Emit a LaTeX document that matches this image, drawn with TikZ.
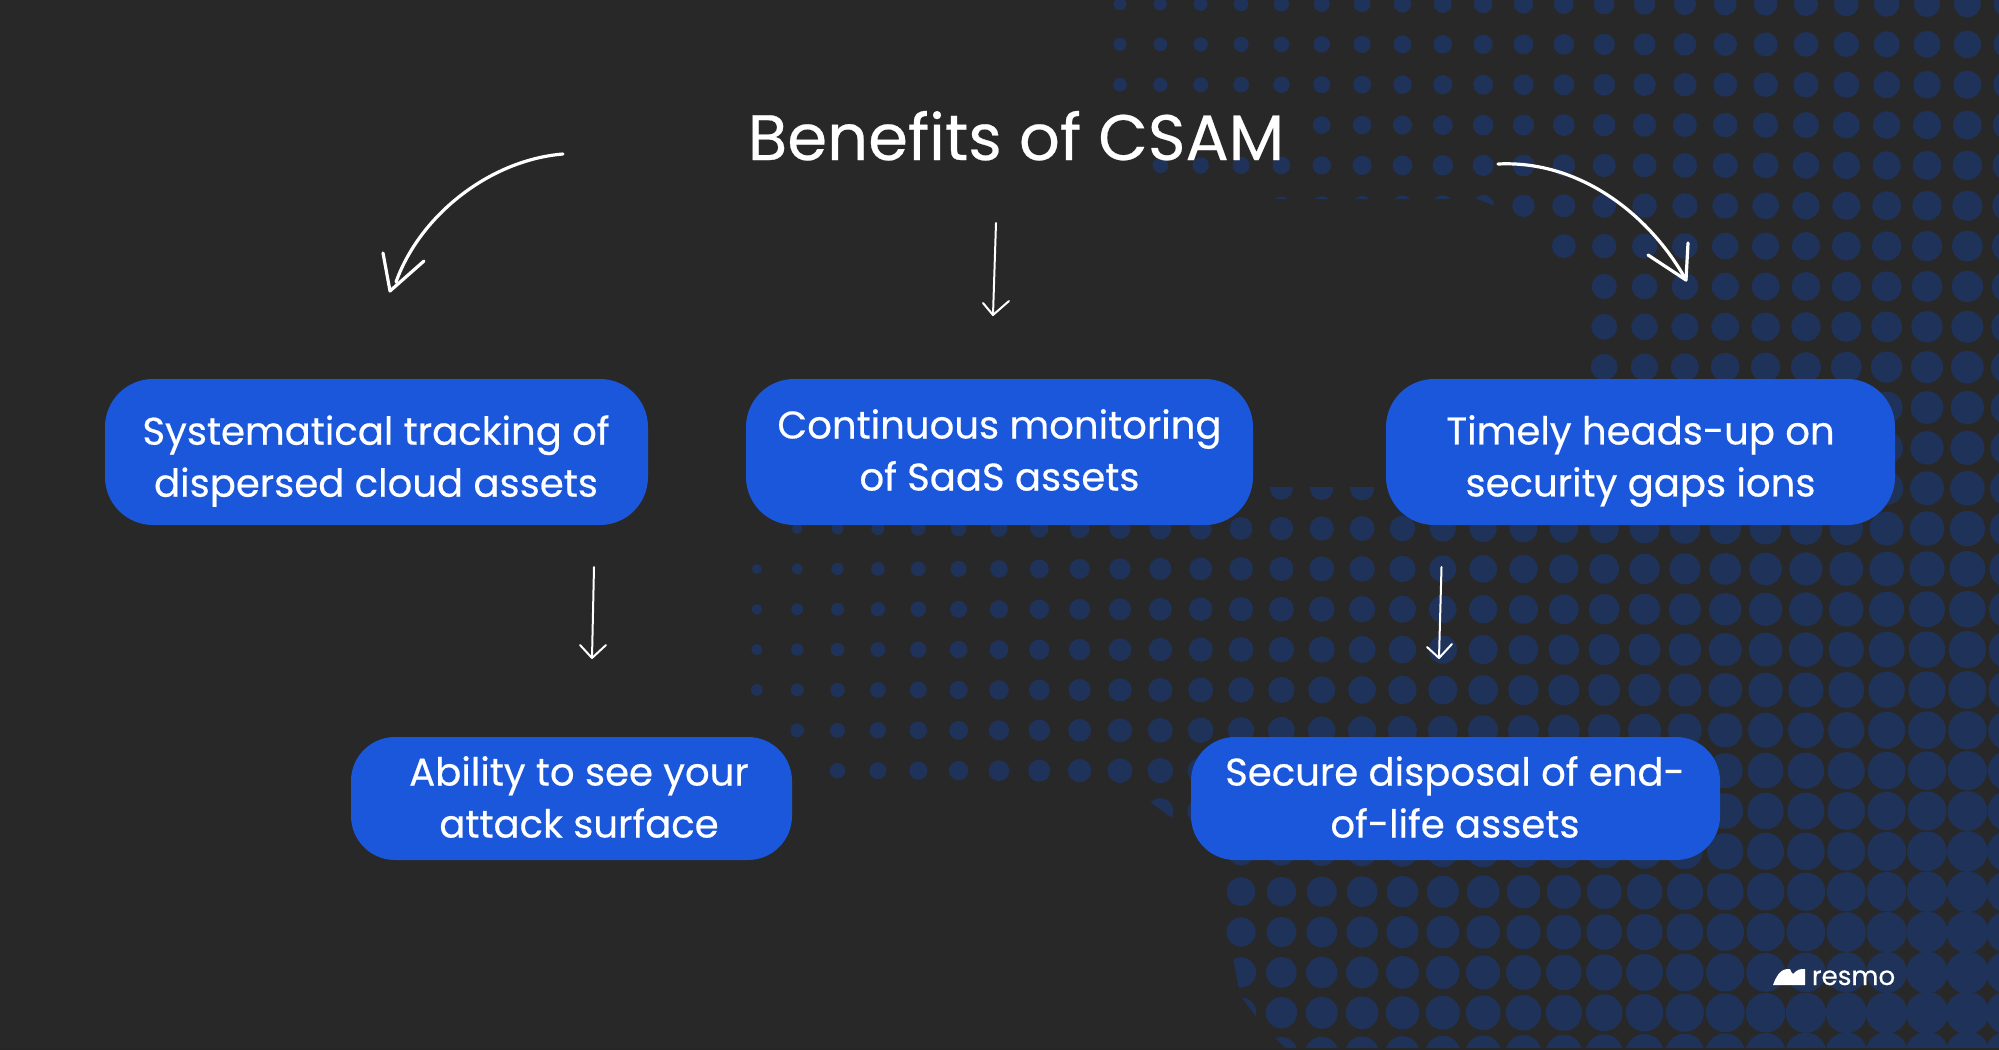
\documentclass[tikz,border=0pt]{standalone}
\usepackage{fontspec}
\setmainfont{Poppins}[FakeBold=0.45]
\newfontfamily\titlefont{Poppins}[FakeBold=0.4]
\definecolor{bgc}{HTML}{282828}
\definecolor{dotc}{HTML}{1F335A}
\definecolor{boxc}{HTML}{1A57DB}
\tikzset{
  bx/.style={draw=none,fill=boxc,rectangle,inner sep=0pt,rounded corners=24pt},
  bxtext/.style={text=white,align=center,inner sep=0pt,font=\fontsize{19.3}{26}\selectfont},
  hand/.style={draw=white,line cap=round,line join=round},
  thickhand/.style={hand,line width=1.6pt},
  thinhand/.style={hand,line width=1pt},
}
\newcommand{\dotrow}[3]{%
  \pgfmathsetmacro{\yy}{4+40.35*#1}%
  \foreach \i in {#2,...,#3}{%
    \pgfmathsetmacro{\xx}{1120+40.35*\i}%
    \pgfmathsetmacro{\rr}{6.5+0.0085*(\xx-1120)+0.008*(\yy-43)-(\xx<1120)*0.0075*(1120-\xx)}%
    \fill[dotc] (\xx,\yy) circle[radius=\rr];%
  }%
}
\begin{document}
\begin{tikzpicture}[x=0.5pt,y=-0.5pt]
\useasboundingbox (0,0) rectangle (1999,1050);
\fill[bgc] (0,0) rectangle (1999,1050);
% dot field, row by row: row, first column, last column
\begin{scope}
\clip (0,0) rectangle (1999,1050);
\dotrow{0}{0}{22}\dotrow{1}{0}{22}\dotrow{2}{0}{22}
\dotrow{3}{5}{22}\dotrow{4}{1}{22}
\dotrow{5}{10}{22}
\begin{scope}
\clip (1270,185) -- (1510,185) -- (1510,212) -- (1475,198) -- (1440,199) -- (1270,199) -- cycle;
\dotrow{5}{4}{9}
\end{scope}
\dotrow{6}{11}{22}\dotrow{7}{12}{22}\dotrow{8}{12}{22}\dotrow{9}{12}{22}
\dotrow{10}{12}{22}\dotrow{11}{12}{22}\dotrow{12}{7}{22}
\begin{scope}
\clip (1255,487) rectangle (1400,520);
\dotrow{12}{4}{6}
\end{scope}
\dotrow{13}{-8}{22}
\dotrow{14}{-9}{22}\dotrow{15}{-9}{22}\dotrow{16}{-9}{22}\dotrow{17}{-9}{22}
\dotrow{18}{-8}{22}\dotrow{19}{-7}{22}
\dotrow{20}{2}{22}
\begin{scope}
\clip (1140,790) -- (1180,790) -- (1180,820) -- (1172,818) -- (1150,802) -- (1140,800) -- cycle;
\dotrow{20}{1}{1}
\end{scope}
\dotrow{21}{3}{22}\dotrow{22}{3}{22}\dotrow{23}{3}{22}
\begin{scope}
\clip (1232,950) -- (1238,985) -- (1242,998) -- (1255,1015) -- (1275,1038) -- (1295,1056) -- (2010,1056) -- (2010,950) -- cycle;
\dotrow{24}{3}{22}\dotrow{25}{3}{22}\dotrow{26}{4}{22}
\end{scope}
\end{scope}
\fill[black!85] (0,1048) rectangle (1999,1050);
% title
\node[text=white,inner sep=0pt,anchor=base,font=\titlefont\fontsize{32.1}{36}\selectfont] (title) at (1016,160) {Benefits of CSAM};
% boxes
\node[bx,minimum width=271.5pt,minimum height=73pt] (b1) at (376.5,452) {};
\node[bx,minimum width=253.5pt,minimum height=73pt] (b2) at (999.5,452) {};
\node[bx,minimum width=254.5pt,minimum height=73pt] (b3) at (1640.5,452) {};
\node[bx,minimum width=220.5pt,minimum height=61.5pt,rounded corners=22pt] (b4) at (571.5,798.5) {};
\node[bx,minimum width=264.5pt,minimum height=61.5pt,rounded corners=22pt] (b5) at (1455.5,798.5) {};
\node[bxtext] (t1) at (376,461) {Systematical tracking of\\dispersed cloud assets};
\node[bxtext] (t2) at (999.5,450) {Continuous monitoring\\of SaaS assets};
\node[bxtext] (t3) at (1640.5,461) {Timely heads-up on\\security gaps ions};
\node[bxtext] (t4) at (579,797) {Ability to see your\\attack surface};
\node[bxtext] (t5) at (1455,797) {Secure disposal of end-\\of-life assets};
% arrows
\coordinate (a1s) at (563,154); \coordinate (a1t) at (390,291);
\coordinate (a1l) at (383,253); \coordinate (a1r) at (424,261);
\draw[thickhand] (a1s) .. controls (490,160) and (420,215) .. (396,282);
\draw[thickhand] (a1l) -- (a1t) -- (a1r);
\coordinate (a3s) at (1498,164); \coordinate (a3t) at (1686,280);
\coordinate (a3l) at (1688,243); \coordinate (a3r) at (1648,255);
\draw[thickhand] (a3s) .. controls (1580,160) and (1650,215) .. (a3t);
\draw[thickhand] (a3l) -- (a3t) -- (a3r);
\coordinate (a2s) at (996,223); \coordinate (a2t) at (993,315);
\coordinate (a2l) at (983,303); \coordinate (a2r) at (1009,301);
\draw[thinhand] (a2s) -- (a2t); \draw[thinhand] (a2l) -- (a2t) -- (a2r);
\coordinate (a4s) at (594,567); \coordinate (a4t) at (592,658);
\coordinate (a4l) at (580,645); \coordinate (a4r) at (606,645);
\draw[thinhand] (a4s) -- (a4t); \draw[thinhand] (a4l) -- (a4t) -- (a4r);
\coordinate (a5s) at (1441.5,567); \coordinate (a5t) at (1439,658);
\coordinate (a5l) at (1427,647); \coordinate (a5r) at (1452,644);
\draw[thinhand] (a5s) -- (a5t); \draw[thinhand] (a5l) -- (a5t) -- (a5r);
% logo
\fill[white] (1773,985) .. controls (1776,977) and (1780,969) .. (1788,969) -- (1790,969) .. controls (1792,974) and (1793,975) .. (1795,972) .. controls (1797,970) and (1799,969) .. (1805,969) -- (1805,985) -- cycle;
\node[text=white,inner sep=0pt,anchor=base,font=\titlefont\fontsize{13.1}{16}\selectfont] (logo) at (1853.5,985) {resmo};
\end{tikzpicture}
\end{document}
